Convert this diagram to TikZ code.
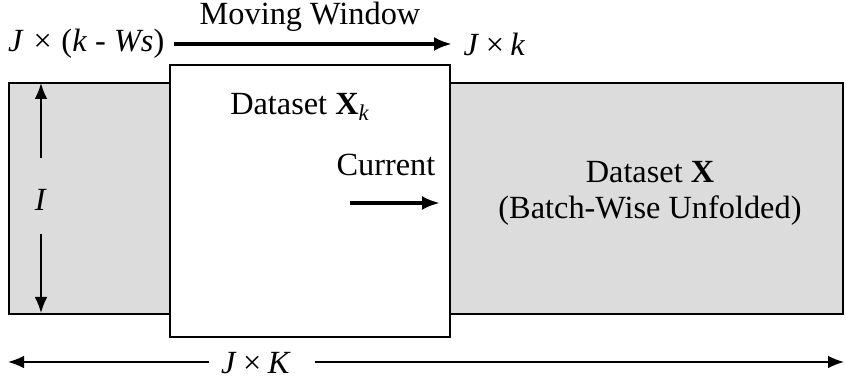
\documentclass[tikz,border=0pt]{standalone}
\usepackage{fontspec}
\setmainfont{Liberation Serif}
\usepackage{xcolor}
\usetikzlibrary{arrows.meta, calc}
\definecolor{unfold}{HTML}{DCDCDC}
\tikzset{
  lbl/.style={font=\fontsize{23}{25.5}\selectfont, inner sep=1pt},
  heavy/.style={line width=2.5pt, -{Latex[length=4.5mm, width=3.5mm]}},
  light/.style={line width=1.3pt, -{Latex[length=4mm, width=3.2mm]}},
}

\begin{document}
\begin{tikzpicture}[line cap=butt]
	\useasboundingbox (0,0) rectangle (21.15,9.625);

	\coordinate (A) at (0.225, 1.775);
	\coordinate (B) at (21.075, 7.55);
	\coordinate (C) at (4.25, 1.2);
	\coordinate (D) at (11.25, 8.0);

	% unfolded data and the window
	\filldraw[fill=unfold, draw=black, line width=1pt] (A) rectangle (B);
	\filldraw[fill=white, draw=black, line width=1.3pt] (C) rectangle (D);

	\node[lbl] (xk) at (7.5, 6.95) {Dataset \textbf{X}\textsubscript{\textit{k}}};
	\node[lbl, align=center] (x) at (16.25, 4.8) {Dataset \textbf{X}\\(Batch-Wise Unfolded)};

	% moving window
	\node[lbl, anchor=east] (start) at (4.15, 8.525) {\textit{J}\hspace{0.3em}×\hspace{0.3em}(\textit{k} - \textit{Ws})};
	\node[lbl, anchor=west] (stop) at (11.55, 8.525) {\textit{J}\hspace{0.2em}×\hspace{0.2em}\textit{k}};
	\node[lbl] (mw) at (7.75, 9.2) {Moving Window};
	\draw[heavy] ([xshift=2mm]start.east) -- ([xshift=-2.5mm]stop.west);

	% current
	\node[lbl] (cur) at (9.65, 5.5) {Current};
	\coordinate (c0) at (8.75, 4.55);
	\coordinate (c1) at (11.0, 4.55);
	\draw[heavy] (c0) -- (c1);

	% I
	\node[lbl] (I) at (1.025, 4.625) {\textit{I}};
	\coordinate (Itop) at (1.025, 7.55);
	\coordinate (Ibot) at (1.025, 1.8);
	\draw[light] ([yshift=1.05cm]I.center) -- (Itop);
	\draw[light] ([yshift=-0.85cm]I.center) -- (Ibot);

	% J x K
	\node[lbl] (JK) at (6.4, 0.55) {\textit{J}\hspace{0.2em}×\hspace{0.2em}\textit{K}};
	\coordinate (L) at (0.2, 0.575);
	\coordinate (R) at (21.1, 0.575);
	\draw[light] ([xshift=-2.5mm]JK.west |- L) -- (L);
	\draw[light] ([xshift=5.5mm]JK.east |- R) -- (R);
\end{tikzpicture}
\end{document}
